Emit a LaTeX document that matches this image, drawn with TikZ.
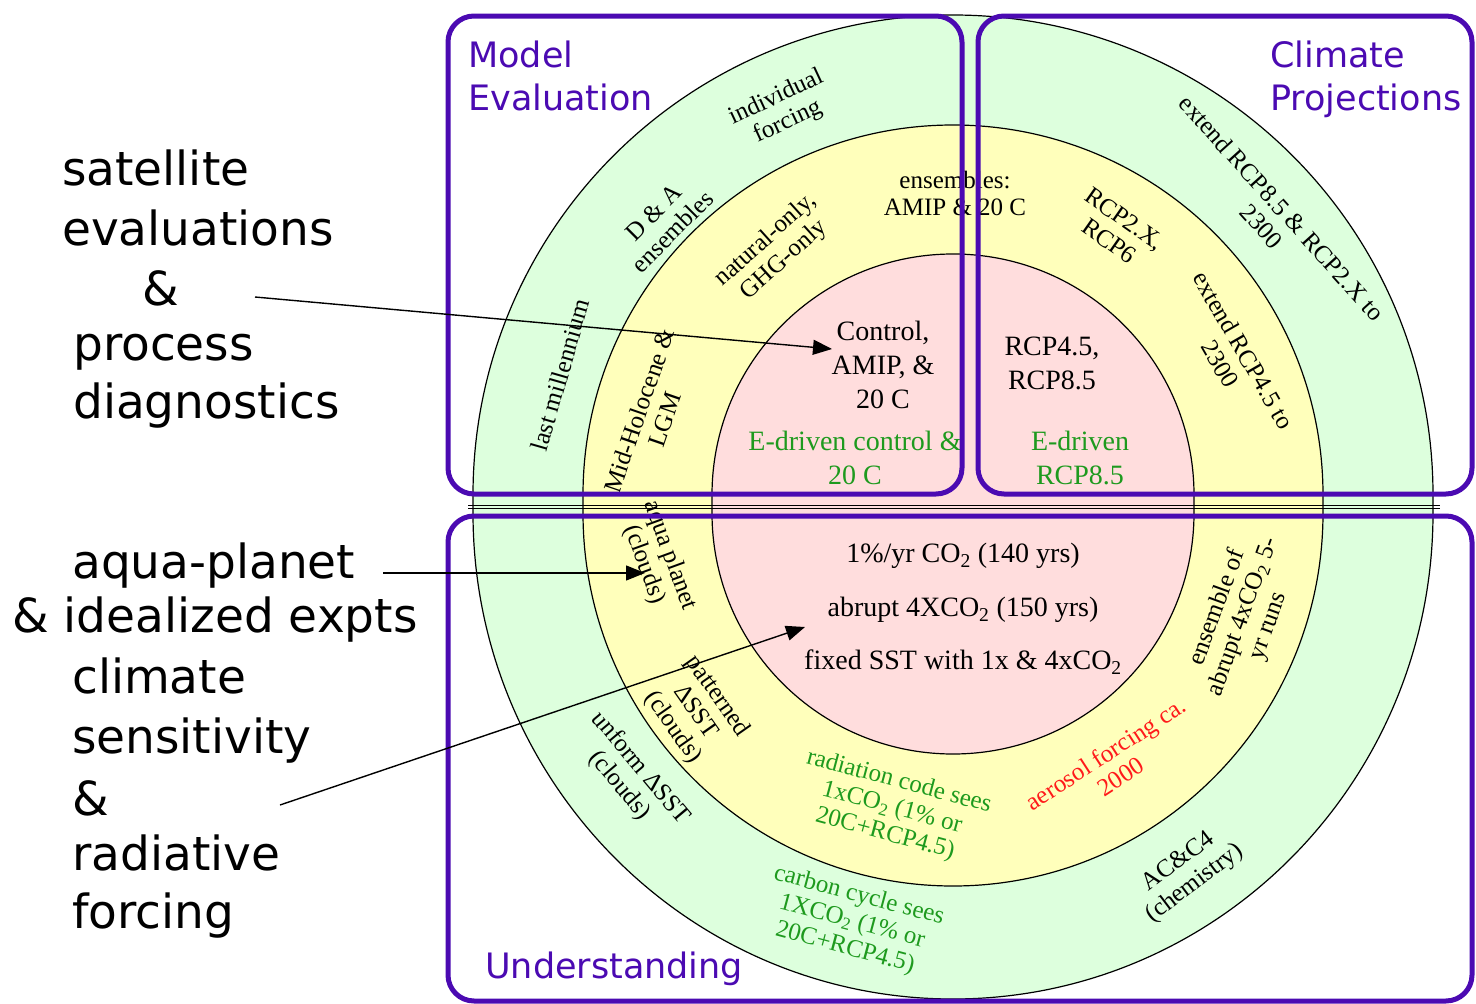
\documentclass[tikz,border=0pt]{standalone}
\usepackage{fontspec}
\setmainfont{Liberation Serif}
\newfontfamily\handfont{DejaVu Sans}
\usetikzlibrary{arrows.meta,calc,positioning}

\definecolor{ringgreen}{HTML}{DDFFDD}
\definecolor{ringyellow}{HTML}{FFFFBB}
\definecolor{ringpink}{HTML}{FFDDDD}
\definecolor{panelpurple}{HTML}{4B0AB2}
\definecolor{textgreen}{HTML}{1E9A1E}
\definecolor{textred}{HTML}{FF1A1A}

\tikzset{%
	ring/.style      = {draw=black, line width=1.2pt}, % ring outline
	panel/.style     = {draw=panelpurple, line width=5pt, rounded corners=26pt},
	title/.style     = {text=panelpurple, font=\handfont\fontsize{35}{40}\selectfont, anchor=base west, inner sep=0pt},
	note/.style      = {font=\handfont\fontsize{47}{56}\selectfont, anchor=base west, inner sep=0pt},
	ringtext/.style  = {font=\fontsize{25}{27}\selectfont, align=center, inner sep=0pt},
	coretext/.style  = {font=\fontsize{28}{34}\selectfont, align=center, inner sep=0pt},
	arrowline/.style = {line width=1.4pt, -{Triangle[length=19pt,width=15pt]}},
}

\begin{document}
\begin{tikzpicture}[x=1pt,y=-1pt]
	\useasboundingbox (0,0) rectangle (1476,1004);

	% rings: half discs on top and bottom, joined by a short straight strip
	\foreach \r/\ry/\c in {480/486/ringgreen, 370/373/ringyellow, 241/241/ringpink}
		\draw[ring, fill=\c] (953-\r,513) -- (953-\r,495) arc[start angle=180, end angle=360, radius=\r]
			-- (953+\r,513) arc[start angle=0, end angle=180, x radius=\r, y radius=\ry] -- cycle;
	\draw[line width=0.8pt] (468,505) -- (1440,505);
	\draw[line width=0.8pt] (468,508) -- (1440,508);

	% upper half
	\node[ringtext, rotate=25] (indiv) at (782,110) {individual\\forcing};
	\node[ringtext, rotate=45] (dna) at (663,222) {D \& A\\ensembles};
	\node[ringtext, rotate=74] (lastmil) at (560,375) {last millennium};
	\node[ringtext, rotate=42] (natghg) at (775,250) {natural-only,\\GHG-only};
	\node[ringtext, rotate=71] (holo) at (652,415) {Mid-Holocene \&\\LGM};
	\node[ringtext] (ensamip) at (955,193) {ensembles:\\AMIP \& 20 C};
	\node[coretext] (ctrl) at (883,365) {Control,\\AMIP, \&\\20 C};
	\node[coretext, text=textgreen] (edrvctl) at (855,458) {E-driven control \&\\20 C};
	\node[ringtext, rotate=-35] (rcp26) at (1117,230) {RCP2.X,\\RCP6};
	\node[ringtext, rotate=-48] (ext85) at (1272,217) {extend RCP8.5 \& RCP2.X to\\2300};
	\node[ringtext, rotate=-60] (ext45) at (1232,357) {extend RCP4.5 to\\2300};
	\node[coretext] (rcp45) at (1052,363) {RCP4.5,\\RCP8.5};
	\node[coretext, text=textgreen] (edrv85) at (1080,458) {E-driven\\RCP8.5};

	% lower half
	\node[coretext] (pct) at (963,556) {1\%/yr CO\textsubscript{2} (140 yrs)};
	\node[coretext] (abr4x) at (963,610) {abrupt 4XCO\textsubscript{2} (150 yrs)};
	\node[coretext] (fixsst) at (963,662) {fixed SST with 1x \& 4xCO\textsubscript{2}};
	\node[ringtext, rotate=-70] (aqua) at (657,560) {aqua planet\\(clouds)};
	\node[ringtext, rotate=-55] (pattern) at (695,712) {patterned\\ΔSST\\(clouds)};
	\node[ringtext, rotate=-50] (uniform) at (630,777) {unform ΔSST\\(clouds)};
	\node[ringtext, rotate=-15, text=textgreen] (radcode) at (892,808) {radiation code sees\\1xCO\textsubscript{2} (1\% or\\20C+RCP4.5)};
	\node[ringtext, rotate=33, text=textred] (aerosol) at (1113,765) {aerosol forcing ca.\\2000};
	\node[ringtext, rotate=70] (abrupt) at (1243,617) {ensemble of\\abrupt 4xCO\textsubscript{2} 5-\\yr runs};
	\node[ringtext, rotate=37] (chem) at (1187,873) {AC\&C4\\(chemistry)};
	\node[ringtext, rotate=-15, text=textgreen] (carbon) at (852,922) {carbon cycle sees\\1XCO\textsubscript{2} (1\% or\\20C+RCP4.5)};

	% panels
	\draw[panel] (448,16) rectangle (962,494);
	\draw[panel] (978,16) rectangle (1472,494);
	\draw[panel] (448,516) rectangle (1472,1001);
	\node[title] (model) at (468,67) {Model};
	\node[title] (evalu) at (468,110) {Evaluation};
	\node[title] (clim) at (1270,67) {Climate};
	\node[title] (proj) at (1270,110) {Projections};
	\node[title] (under) at (485,978) {Understanding};

	% notes on the left
	\foreach \px/\py/\txt/\nm in {62/185/satellite/sat, 62/245/evaluations/evals, 142/305/\&/amp1,
		73/360/process/proc, 73/418/diagnostics/diag, 72/578/aqua-planet/aquap, 12/632/\& idealized expts/ideal,
		72/693/climate/clim2, 72/753/sensitivity/sens, 72/815/\&/amp2, 72/870/radiative/radi, 72/928/forcing/forc}
		\node[note] (\nm) at (\px,\py) {\txt};

	\coordinate (satfrom) at (255,297);
	\coordinate (ctrlto) at (832,349);
	\coordinate (aquafrom) at (383,573);
	\coordinate (aquato) at (645,573);
	\coordinate (sensfrom) at (280,805);
	\coordinate (sensto) at (805,627);
	\draw[arrowline] (satfrom) -- (ctrlto);
	\draw[arrowline] (aquafrom) -- (aquato);
	\draw[arrowline] (sensfrom) -- (sensto);
\end{tikzpicture}
\end{document}
